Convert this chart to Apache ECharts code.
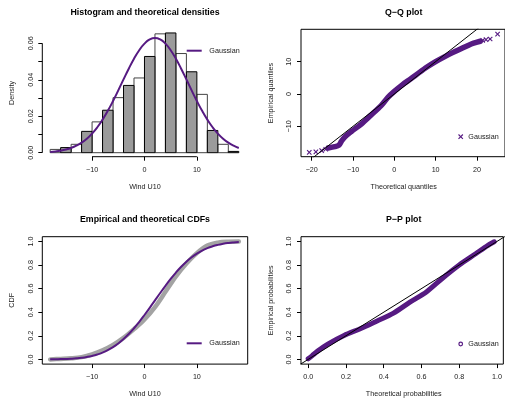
<!DOCTYPE html>
<html>
<head>
<meta charset="utf-8">
<script src="https://cdn.jsdelivr.net/npm/echarts@6/dist/echarts.min.js"></script>
<style>
html,body{margin:0;padding:0;background:#fff;}
#c{width:505px;height:402px;}
</style>
</head>
<body>
<div id="c"></div>
<script>
// ---------- data ----------
const histBreaks = [-18,-16,-14,-12,-10,-8,-6,-4,-2,0,2,4,6,8,10,12,14,16,18];
const histDensity = [0.0018,0.0028,0.0046,0.0117,0.0169,0.0233,0.0302,0.0369,0.0410,0.0528,0.0652,0.0657,0.0544,0.0444,0.0320,0.0122,0.0046,0.0007];

const densX = [-18,-17,-16,-15,-14,-13,-12,-11,-10,-9,-8,-7,-6,-5,-4,-3,-2,-1,0,1,2,3,4,5,6,7,8,9,10,11,12,13,14,15,16,17,18];
const densY = [0.00044,0.00071,0.00112,0.00173,0.0026,0.00383,0.00549,0.00769,0.01049,0.01396,0.01813,0.02296,0.02837,0.03419,0.0402,0.04609,0.05155,0.05623,0.05985,0.06212,0.0629,0.06212,0.05985,0.05623,0.05155,0.04609,0.0402,0.03419,0.02837,0.02296,0.01813,0.01396,0.01049,0.00769,0.00549,0.00383,0.0026];

const cdfTheoY = [0.0008,0.00136,0.00226,0.00367,0.0058,0.009,0.0136,0.0202,0.0292,0.0414,0.0574,0.0778,0.1035,0.1348,0.172,0.2151,0.264,0.3181,0.3763,0.4373,0.5,0.5627,0.6237,0.6819,0.736,0.7849,0.828,0.8652,0.8965,0.9222,0.9426,0.9586,0.9708,0.9798,0.9864,0.991,0.9942];
const ecdfX = [-18,-16,-14,-12,-10,-8,-6,-4,-2,0,2,4,6,8,10,12,14,16,18];
const ecdfY = [0.0,0.004,0.009,0.019,0.042,0.076,0.122,0.182,0.256,0.338,0.443,0.573,0.704,0.813,0.901,0.965,0.990,0.998,1.0];

const qqBandTheo = [-16.0,-14.4,-13.4,-12.8,-12.0,-10.4,-8.0,-5.6,-3.2,-1.5,0,2,4,6,8,10,12,14,16,18,19.2,20.8];
const qqBandEmp  = [-16.7,-16.3,-15.8,-14.6,-13.3,-11.6,-9.3,-6.5,-3.6,-1.0,0.8,2.9,4.7,6.6,8.4,10.0,11.4,12.7,13.9,15.1,15.7,16.3];
const qqTailTheo = [-20.6,-19.0,-17.6,-16.6,21.4,22.2,23.2,25.0];
const qqTailEmp  = [-18.05,-17.9,-17.5,-17.1,16.6,16.8,17.0,18.5];

const ppTheo = [0.0,0.02,0.05,0.104,0.19,0.279,0.365,0.452,0.539,0.626,0.713,0.80,0.887,0.95,0.985];
const ppEmp  = [0.005,0.03,0.07,0.13,0.203,0.262,0.326,0.392,0.485,0.572,0.69,0.80,0.895,0.965,0.997];

const windTicks = [-10,0,10];
const densTicks = [0,0.01,0.02,0.03,0.04,0.05,0.06];
const densLabels = [0,0.02,0.04,0.06];
const qqXTicks = [-20,-10,0,10,20];
const qqYTicks = [-10,0,10];
const probTicks = [0,0.2,0.4,0.6,0.8,1.0];
const refLine = [-40,40];
const legendName = 'Gaussian';

// ---------- styling ----------
const PURPLE = '#561a82';
const GRAY = '#a3a3a3';
const BARGRAY = '#9b9b9b';
const FONT = '"Liberation Sans", Arial, sans-serif';
const TXT = '#1a1a1a';

const zip = (a,b) => a.map((v,i)=>[v,b[i]]);
const minus = v => String(v).replace('-', '\u2212');

function mkX(idx, min, max, ticks, fmt){
  return {type:'value', gridIndex:idx, min:min, max:max, position:'bottom',
    axisLine:{show:false, onZero:false}, splitLine:{show:false},
    axisTick:{show:true, length:4, customValues:ticks, lineStyle:{color:'#000',width:1}},
    axisLabel:{customValues:ticks, fontSize:7.2, color:TXT, fontFamily:FONT, margin:9.5, formatter:fmt}};
}
function mkY(idx, min, max, ticks, labels, fmt){
  return {type:'value', gridIndex:idx, min:min, max:max, position:'left',
    axisLine:{show:false, onZero:false}, splitLine:{show:false},
    axisTick:{show:true, length:4, customValues:ticks, lineStyle:{color:'#000',width:1}},
    axisLabel:{customValues:labels, rotate:90, fontSize:7.2, color:TXT, fontFamily:FONT, margin:8, formatter:fmt}};
}

const W = 205.4, H = 127.4;
const grids = [
  {left:42.3, top:29.3, width:W, height:H},
  {left:301, top:29.3, width:W, height:H, show:true, borderColor:'#000', borderWidth:1, backgroundColor:'transparent'},
  {left:42.3, top:236.7, width:W, height:H, show:true, borderColor:'#000', borderWidth:1, backgroundColor:'transparent'},
  {left:301, top:236.7, width:W, height:H, show:true, borderColor:'#000', borderWidth:1, backgroundColor:'transparent'}
];
const y0min = -0.0022, y0max = 0.0677, x0min = -19.5, x0max = 19.7;

const xAxes = [
  mkX(0, x0min, x0max, windTicks, minus),
  mkX(1, -22.6, 26.8, qqXTicks, minus),
  mkX(2, x0min, x0max, windTicks, minus),
  mkX(3, -0.038, 1.0335, probTicks, v=>v.toFixed(1))
];
const yAxes = [
  mkY(0, y0min, y0max, densTicks, densLabels, v=>v.toFixed(2)),
  mkY(1, -19.4, 20.0, qqYTicks, qqYTicks, minus),
  mkY(2, -0.04, 1.04, probTicks, probTicks, v=>v.toFixed(1)),
  mkY(3, -0.04, 1.04, probTicks, probTicks, v=>v.toFixed(1))
];

const histData = histDensity.map((d,i)=>[histBreaks[i], histBreaks[i+1], d]);

const series = [
  // panel 1 axis lines (R-style, spanning tick range)
  {type:'line', xAxisIndex:0, yAxisIndex:0, data:[[windTicks[0],y0min],[windTicks[windTicks.length-1],y0min]],
   showSymbol:false, clip:false, lineStyle:{color:'#000',width:1}, silent:true, z:1},
  {type:'line', xAxisIndex:0, yAxisIndex:0, data:[[x0min,densTicks[0]],[x0min,densTicks[densTicks.length-1]]],
   showSymbol:false, clip:false, lineStyle:{color:'#000',width:1}, silent:true, z:1},
  // histogram
  {type:'custom', xAxisIndex:0, yAxisIndex:0, data:histData, z:2,
   renderItem:function(params, api){
     const p0 = api.coord([api.value(0), api.value(2)]);
     const p1 = api.coord([api.value(1), 0]);
     const grayBar = params.dataIndex % 2 === 1;
     return {type:'rect', z2: grayBar ? 2 : 1,
       shape:{x:p0[0], y:p0[1], width:p1[0]-p0[0], height:p1[1]-p0[1]},
       style:{fill: grayBar ? BARGRAY : '#fff', stroke: grayBar ? '#000' : '#444', lineWidth:1}};
   }},
  {type:'line', name:legendName, xAxisIndex:0, yAxisIndex:0, data:zip(densX,densY), smooth:true,
   showSymbol:false, lineStyle:{color:PURPLE,width:2}, z:5},
  // Q-Q
  {type:'line', xAxisIndex:1, yAxisIndex:1, data:[[refLine[0],refLine[0]],[refLine[1],refLine[1]]],
   showSymbol:false, lineStyle:{color:'#000',width:1}, z:6},
  {type:'line', xAxisIndex:1, yAxisIndex:1, data:zip(qqBandTheo,qqBandEmp), smooth:0.3,
   showSymbol:false, lineStyle:{color:PURPLE,width:5.5,cap:'round',join:'round'}, z:4},
  {type:'custom', xAxisIndex:1, yAxisIndex:1, data:zip(qqTailTheo,qqTailEmp), z:5,
   renderItem:function(params, api){
     const p = api.coord([api.value(0), api.value(1)]);
     const s = 2.2;
     return {type:'group', children:[
       {type:'line', shape:{x1:p[0]-s,y1:p[1]-s,x2:p[0]+s,y2:p[1]+s}, style:{stroke:PURPLE,lineWidth:1.1}},
       {type:'line', shape:{x1:p[0]-s,y1:p[1]+s,x2:p[0]+s,y2:p[1]-s}, style:{stroke:PURPLE,lineWidth:1.1}}
     ]};
   }},
  // CDF
  {type:'line', xAxisIndex:2, yAxisIndex:2, data:zip(ecdfX,ecdfY), smooth:0.35,
   showSymbol:false, lineStyle:{color:GRAY,width:4.5,cap:'round'}, z:3},
  {type:'line', xAxisIndex:2, yAxisIndex:2, data:zip(densX,cdfTheoY), smooth:true,
   showSymbol:false, lineStyle:{color:PURPLE,width:2}, z:5},
  // P-P
  {type:'line', xAxisIndex:3, yAxisIndex:3, data:[[refLine[0],refLine[0]],[refLine[1],refLine[1]]],
   showSymbol:false, lineStyle:{color:'#000',width:1}, z:6},
  {type:'line', xAxisIndex:3, yAxisIndex:3, data:zip(ppTheo,ppEmp), smooth:0.3,
   showSymbol:false, lineStyle:{color:PURPLE,width:5,cap:'round',join:'round'}, z:4}
];

function txt(x,y,t,opt){
  return Object.assign({type:'text', x:x, y:y, silent:true,
    style:Object.assign({text:t, fill:TXT, font:'7.2px '+FONT, textAlign:'center', textVerticalAlign:'middle'}, opt&&opt.style||{})},
    opt&&opt.el||{});
}
const titleFont = 'bold 8.8px '+FONT;
const rot = Math.PI/2;
const graphics = [
  txt(145,12.3,'Histogram and theoretical densities',{style:{font:titleFont,fill:'#000'}}),
  txt(403.7,12.3,'Q\u2212Q plot',{style:{font:titleFont,fill:'#000'}}),
  txt(145,219.3,'Empirical and theoretical CDFs',{style:{font:titleFont,fill:'#000'}}),
  txt(403.7,219.3,'P\u2212P plot',{style:{font:titleFont,fill:'#000'}}),
  txt(145,187,'Wind U10'),
  txt(403.7,187,'Theoretical quantiles'),
  txt(145,394,'Wind U10'),
  txt(403.7,394,'Theoretical probabilities'),
  txt(12.3,93,'Density',{el:{rotation:rot}}),
  txt(270.7,93,'Empirical quantiles',{el:{rotation:rot}}),
  txt(12.3,300.3,'CDF',{el:{rotation:rot}}),
  txt(270.7,300.3,'Empirical probabilities',{el:{rotation:rot}}),
  // legends
  {type:'line', shape:{x1:186.7,y1:50.7,x2:201.7,y2:50.7}, style:{stroke:PURPLE,lineWidth:2}, silent:true},
  txt(209.3,50.7,legendName,{style:{textAlign:'left'}}),
  {type:'line', shape:{x1:186.7,y1:343.3,x2:201.7,y2:343.3}, style:{stroke:PURPLE,lineWidth:2}, silent:true},
  txt(209.3,343.3,legendName,{style:{textAlign:'left'}}),
  {type:'line', shape:{x1:458.5,y1:134.5,x2:462.9,y2:138.9}, style:{stroke:PURPLE,lineWidth:1.1}, silent:true},
  {type:'line', shape:{x1:458.5,y1:138.9,x2:462.9,y2:134.5}, style:{stroke:PURPLE,lineWidth:1.1}, silent:true},
  txt(468.3,136.7,legendName,{style:{textAlign:'left'}}),
  {type:'circle', shape:{cx:460.7,cy:344,r:1.8}, style:{fill:'none',stroke:PURPLE,lineWidth:1.2}, silent:true},
  txt(468.3,344,legendName,{style:{textAlign:'left'}})
];

const chart = echarts.init(document.getElementById('c'), null, {renderer:'canvas'});
chart.setOption({
  animation:false,
  backgroundColor:'#fff',
  grid:grids, xAxis:xAxes, yAxis:yAxes, series:series, graphic:graphics
});
</script>
</body>
</html>
